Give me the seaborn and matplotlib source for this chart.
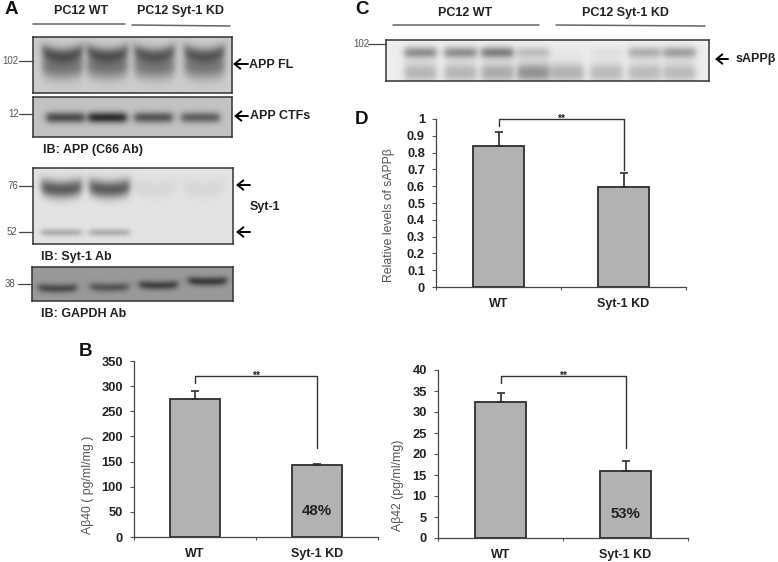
import matplotlib
matplotlib.use('Agg')
import matplotlib.pyplot as plt
import seaborn as sns
import numpy as np
import pandas as pd

sns.set_theme(style='ticks')
plt.rcParams['font.family'] = ['Liberation Sans', 'DejaVu Sans']

W, H = 778, 562

# bar data
groups = ['WT', 'Syt-1 KD']
ab40 = [275, 143]
ab40_err = [15, 2]
ab42 = [32.3, 16]
ab42_err = [2.2, 2.3]
sapp = [0.84, 0.595]
sapp_err = [0.08, 0.085]

ab40_ticks = [0, 50, 100, 150, 200, 250, 300, 350]
ab42_ticks = [0, 5, 10, 15, 20, 25, 30, 35, 40]
sapp_ticks = [0, 0.1, 0.2, 0.3, 0.4, 0.5, 0.6, 0.7, 0.8, 0.9, 1]
sapp_labels = ['0', '0.1', '0.2', '0.3', '0.4', '0.5', '0.6', '0.7', '0.8', '0.9', '1']

# relative band strength per lane on the blots
fl_levels = [0.40, 0.40, 0.38, 0.38]
ctf_levels = [0.46, 0.58, 0.42, 0.38]
syt_top_levels = [0.52, 0.52, 0.05, 0.05]
syt_low_levels = [0.20, 0.20, 0.0, 0.0]
gapdh_levels = [0.30, 0.26, 0.34, 0.36]
sapp_top_levels = [0.36, 0.36, 0.42, 0.18, 0.02, 0.05, 0.24, 0.30]
sapp_low_levels = [0.22, 0.22, 0.26, 0.36, 0.24, 0.20, 0.20, 0.20]

TEXT = '#222222'
GREY = '#555555'
BAR = '#b2b2b2'
EDGE = '#2e2e2e'


def blot(fig, box, bg, bands):
    # box is left, top, right, bottom in figure pixels
    l, t, r, b = box
    ax = fig.add_axes([l / W, 1 - b / H, (r - l) / W, (b - t) / H])
    xx, yy = np.meshgrid(np.arange(l, r), np.arange(t, b))
    img = np.full(xx.shape, bg, dtype=float)
    for xc, hw, yc, sy, amp, bend in bands:
        lane = 0.5 * (np.tanh((xx - xc + hw) / 4) - np.tanh((xx - xc - hw) / 4))
        mid = yc - bend * ((xx - xc) / hw) ** 2
        img -= amp * lane * np.exp(-((yy - mid) / sy) ** 2)
    sns.heatmap(img, ax=ax, cmap='gray', vmin=0, vmax=1, cbar=False,
                xticklabels=False, yticklabels=False, rasterized=True)
    for s in ax.spines.values():
        s.set_visible(True)
        s.set_color('#333333')
        s.set_linewidth(1.1)
    return ax


def bars(fig, box, vals, errs, ticks, ticklabels, ylabel, label_pos, top, bracket, pct=None):
    l, t, r, b = box
    ax = fig.add_axes([l / W, 1 - b / H, (r - l) / W, (b - t) / H])
    df = pd.DataFrame({'group': groups, 'value': vals})
    sns.barplot(data=df, x='group', y='value', color=BAR, saturation=1, width=0.41,
                edgecolor=EDGE, linewidth=1.3, errorbar=None, ax=ax)
    ax.errorbar([0, 1], vals, yerr=[[0, 0], errs], fmt='none', ecolor=EDGE,
                elinewidth=1.2, capsize=3, capthick=1.2)
    ax.set_xlim(-0.5, 1.5)
    ax.set_ylim(0, top)
    ax.set_yticks(ticks)
    ax.set_yticklabels(ticklabels, fontsize=9.3, fontweight='bold', color=TEXT)
    ax.set_xticks([-0.5, 0.5, 1.5])
    ax.set_xticklabels([])
    ax.set_xticks([0, 1], minor=True)
    ax.set_xticklabels(groups, minor=True, fontsize=9, fontweight='bold', color=TEXT)
    ax.tick_params(axis='x', which='minor', length=0, pad=8)
    ax.tick_params(axis='x', which='major', length=2, width=0.8, color='#555555')
    ax.tick_params(axis='y', length=3, width=0.8, color='#555555', pad=5)
    ax.set_xlabel('')
    ax.set_ylabel(ylabel, fontsize=8.8, color=GREY)
    # label spot is given in figure pixels, matches the reference better than labelpad
    ax.yaxis.set_label_coords((label_pos[0] - l) / (r - l), (b - label_pos[1]) / (b - t))
    sns.despine(ax=ax)
    for s in ['left', 'bottom']:
        ax.spines[s].set_color('#444444')
        ax.spines[s].set_linewidth(0.9)
    y_top, y_left, y_right = bracket
    ax.plot([0, 0, 1, 1], [y_left, y_top, y_top, y_right], color='#333333', lw=1.0, clip_on=False)
    ax.text(0.5, y_top, '**', ha='center', va='center', fontsize=7.5, fontweight='bold', color=TEXT, clip_on=False)
    if pct:
        ax.text(1, vals[1] * 0.36, pct, ha='center', va='center', fontsize=10.8, fontweight='bold', color=TEXT)
    return ax


fig = plt.figure(figsize=(W / 100, H / 100), dpi=100, facecolor='white')

four = [62, 107, 154, 204]
fl = [(x, 20, 55, 8, v, 5) for x, v in zip(four, fl_levels)]
fl += [(x, 20, 68, 11, v * 0.8, 3) for x, v in zip(four, fl_levels)]
blot(fig, (33, 37, 232, 93), 0.80, fl)

ctf_x = [65, 107, 153, 200]
blot(fig, (33, 97, 232, 137), 0.76,
     [(x, 19, 117, 5.5, v, 0) for x, v in zip(ctf_x, ctf_levels)])

syt_x = [61, 109, 155, 203]
syt = [(x, 20, 189, 9, v, 3) for x, v in zip(syt_x, syt_top_levels)]
syt += [(x, 20, 232, 4, v, 0) for x, v in zip(syt_x, syt_low_levels)]
blot(fig, (33, 168, 233, 244), 0.89, syt)

gap_x = [57, 109, 158, 207]
gap_y = [288, 287, 285, 281]
blot(fig, (32, 267, 233, 301), 0.60,
     [(x, 19, y, 4.5, v, 1) for x, y, v in zip(gap_x, gap_y, gapdh_levels)])

c_x = [420, 460, 497, 533, 567, 606, 644, 679]
c = [(x, 16, 52, 6, v, 0) for x, v in zip(c_x, sapp_top_levels)]
c += [(x, 16, 72, 10, v, 0) for x, v in zip(c_x, sapp_low_levels)]
blot(fig, (386, 40, 709, 81), 0.93, c)

bars(fig, (134, 361, 378, 537), ab40, ab40_err, ab40_ticks, ab40_ticks,
     'A\u03b240 ( pg/ml/mg )', (94, 485), 350, (320, 306, 177), '48%')
bars(fig, (438, 370, 688, 538), ab42, ab42_err, ab42_ticks, ab42_ticks,
     'A\u03b242 (pg/ml/mg)', (404, 485), 40, (38.6, 36.9, 21.4), '53%')
bars(fig, (436, 119, 686, 287), sapp, sapp_err, sapp_ticks, sapp_labels,
     'Relative levels of sAPP\u03b2', (395, 215), 1, (1, 0.96, 0.695))

# overlay in figure pixels for the blot labels
ov = fig.add_axes([0, 0, 1, 1], zorder=5)
ov.set_xlim(0, W)
ov.set_ylim(H, 0)
ov.axis('off')
ov.patch.set_alpha(0)

for s, x, y in [('A', 11, 10), ('C', 362, 9), ('D', 362, 120), ('B', 86, 352)]:
    ov.text(x, y, s, fontsize=13.5, fontweight='bold', color='#111111', ha='center', va='center')

bold_labels = [('PC12 WT', 81, 11, 'center'), ('PC12 Syt-1 KD', 181, 11, 'center'),
               ('PC12 WT', 465, 13, 'center'), ('PC12 Syt-1 KD', 626, 13, 'center'),
               ('APP FL', 249, 65, 'left'), ('APP CTFs', 250, 116, 'left'),
               ('Syt-1', 250, 207, 'left'), ('IB: APP (C66 Ab)', 43, 150, 'left'),
               ('IB: Syt-1 Ab', 41, 257, 'left'), ('IB: GAPDH Ab', 41, 314, 'left'),
               ('sAPP\u03b2', 736, 59, 'left')]
for s, x, y, ha in bold_labels:
    ov.text(x, y, s, fontsize=9, fontweight='bold', color=TEXT, ha=ha, va='center')

for x0, x1, y0, y1 in [(33, 125, 24, 24), (132, 230, 25, 26), (393, 539, 25, 25), (556, 705, 25, 26)]:
    ov.plot([x0, x1], [y0, y1], color='#666666', lw=1.1)

for s, x, y, x0, x1 in [('102', 2, 61, 19, 33), ('12', 8, 114, 19, 33), ('76', 7, 186, 19, 33),
                        ('52', 7, 232, 19, 33), ('38', 5, 284, 18, 32), ('102', 353, 44, 368, 386)]:
    ov.text(x, y, s, fontsize=7, color=GREY, ha='left', va='center')
    ov.plot([x0, x1], [y, y], color='#444444', lw=0.9)

for x0, x1, y in [(248, 233, 64), (248, 234, 116), (250, 236, 185), (250, 236, 232), (728, 715, 59)]:
    ov.annotate('', xy=(x1, y), xytext=(x0, y),
                arrowprops=dict(arrowstyle='->,head_length=0.35,head_width=0.28', color='black', lw=1.4,
                                shrinkA=0, shrinkB=0))

fig.savefig('out.png', dpi=100)
